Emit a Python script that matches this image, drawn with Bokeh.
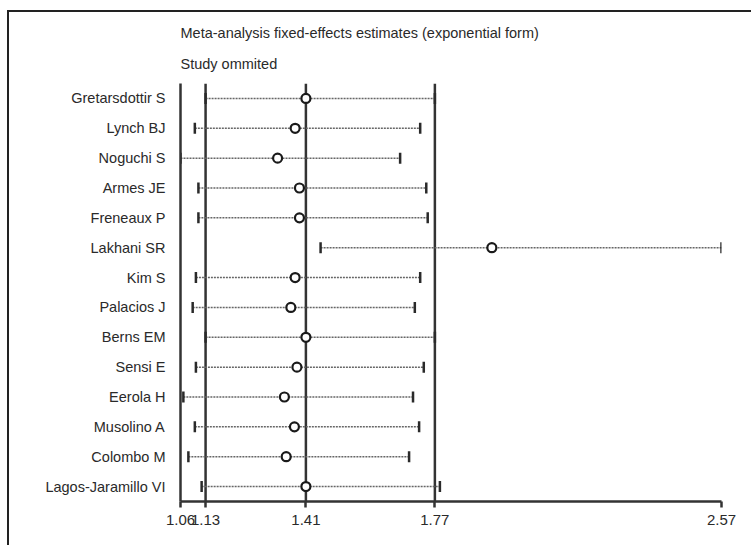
import math
from bokeh.plotting import figure
from bokeh.models import FactorRange, Range1d, FixedTicker, Span, Title, ColumnDataSource
from bokeh.embed import file_html
from bokeh.resources import INLINE

studies = ["Gretarsdottir S", "Lynch BJ", "Noguchi S", "Armes JE", "Freneaux P",
           "Lakhani SR", "Kim S", "Palacios J", "Berns EM", "Sensi E", "Eerola H",
           "Musolino A", "Colombo M", "Lagos-Jaramillo VI"]
lower = [1.13, 1.100, 1.06, 1.110, 1.110, 1.451, 1.103, 1.094, 1.13, 1.103, 1.068, 1.100, 1.082, 1.119]
estimate = [1.41, 1.380, 1.331, 1.392, 1.392, 1.929, 1.380, 1.368, 1.41, 1.385, 1.350, 1.378, 1.355, 1.410]
upper = [1.77, 1.729, 1.673, 1.746, 1.750, 2.57, 1.729, 1.714, 1.77, 1.739, 1.709, 1.726, 1.698, 1.784]
overall = [1.13, 1.41, 1.77]
tick_values = [1.06, 1.13, 1.41, 1.77, 2.57]
title_line1 = "Meta-analysis fixed-effects estimates (exponential form)"
title_line2 = "Study ommited"

FONT = "Liberation Sans"
DARK = "#2a2a2a"

src = ColumnDataSource(dict(study=studies, lower=lower, estimate=estimate, upper=upper))

p = figure(width=744, height=535,
           y_range=FactorRange(*reversed(studies)),
           x_range=Range1d(tick_values[0], tick_values[-1]),
           output_backend="svg", toolbar_location=None,
           min_border_left=171, min_border_right=32,
           min_border_top=71, min_border_bottom=46)
p.title = None
p.styles = {"border-top": "2px solid #222", "border-left": "2px solid #222",
            "margin-top": "10px", "margin-left": "7px"}

t2 = Title(text=title_line2, align="left", text_font=FONT, text_font_size="14.5px",
           text_font_style="normal", text_color=DARK, standoff=24)
t1 = Title(text=title_line1, align="left", text_font=FONT, text_font_size="14.5px",
           text_font_style="normal", text_color=DARK, standoff=2)
p.add_layout(t2, "above")
p.add_layout(t1, "above")

p.outline_line_color = None
p.xgrid.visible = False
p.ygrid.visible = False

for v in overall:
    p.add_layout(Span(location=v, dimension="height", line_color="#333333",
                      line_width=2.5, level="underlay"))

p.segment(x0="lower", y0="study", x1="upper", y1="study", source=src,
          line_color="#666666", line_width=1.5, line_dash="2 1")
p.scatter(x="lower", y="study", source=src, marker="dash", angle=math.pi / 2,
          size=11, line_width=2.5, line_color=DARK)
p.scatter(x="upper", y="study", source=src, marker="dash", angle=math.pi / 2,
          size=11, line_width=2.5, line_color=DARK)
p.scatter(x="estimate", y="study", source=src, marker="circle", size=9,
          fill_color="white", line_color="#1a1a1a", line_width=2.2)

xa = p.xaxis[0]
xa.ticker = FixedTicker(ticks=tick_values)
xa.minor_tick_line_color = None
xa.major_tick_in = 0
xa.major_tick_out = 6
xa.major_tick_line_width = 2.5
xa.major_tick_line_color = "#333333"
xa.axis_line_width = 2.5
xa.axis_line_color = "#333333"
xa.major_label_text_font = FONT
xa.major_label_text_font_size = "15px"
xa.major_label_text_color = DARK
xa.major_label_standoff = 7

ya = p.yaxis[0]
ya.major_tick_line_color = None
ya.minor_tick_line_color = None
ya.axis_line_width = 2.5
ya.axis_line_color = "#333333"
ya.major_label_text_font = FONT
ya.major_label_text_font_size = "14.5px"
ya.major_label_text_color = DARK
ya.major_label_standoff = 9

open("out.html", "w").write(file_html(p, INLINE))
